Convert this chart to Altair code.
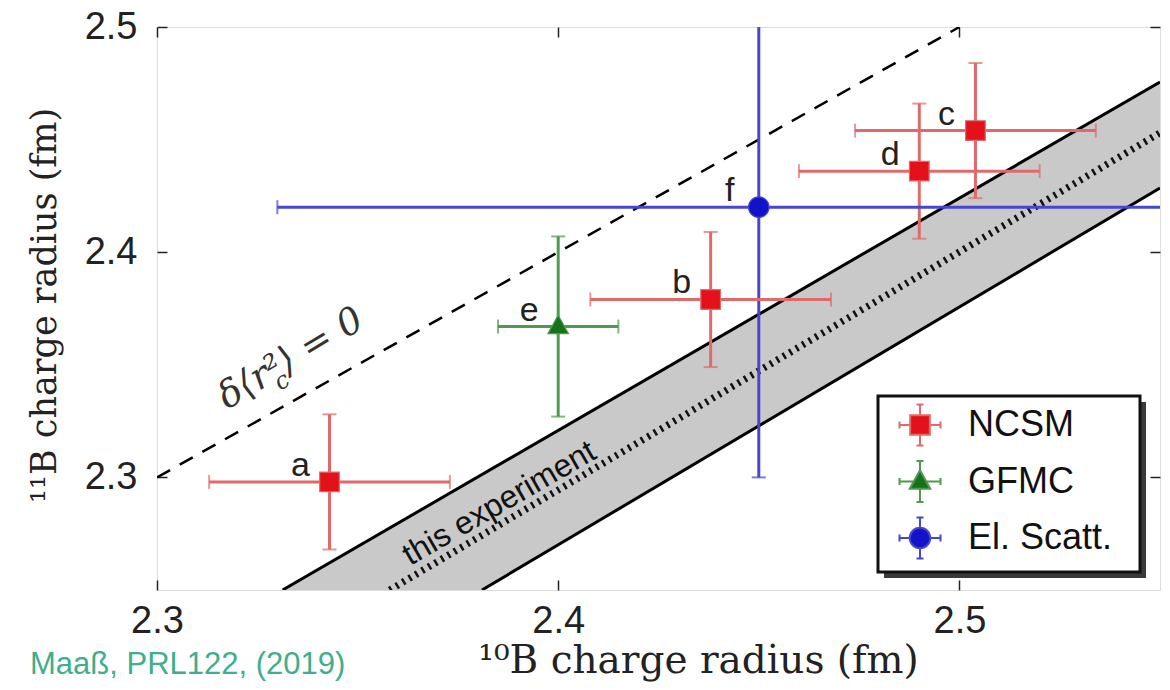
import altair as alt
import pandas as pd

# ---- data ----
labels = ["a", "b", "c", "d", "e", "f"]
models = ["NCSM", "NCSM", "NCSM", "NCSM", "GFMC", "El. Scatt."]
r10 = [2.343, 2.438, 2.504, 2.490, 2.400, 2.450]
r11 = [2.298, 2.379, 2.454, 2.436, 2.367, 2.420]
r10_err = [0.030, 0.030, 0.030, 0.030, 0.015, 0.120]
r11_err = [0.030, 0.030, 0.030, 0.030, 0.040, 0.120]

model_names = ["NCSM", "GFMC", "El. Scatt."]
marker_colors = ["#e3121a", "#17731a", "#1212c8"]
bar_colors = ["#e06a6a", "#4f9a4f", "#4646d2"]

tick_values = [2.3, 2.4, 2.5]

# "this experiment" band (delta<r^2> = const curves)
band_upper_x = [2.3313, 2.55]
band_upper_y = [2.25, 2.4756]
band_center_x = [2.358, 2.55]
band_center_y = [2.25, 2.453]
band_lower_x = [2.381, 2.55]
band_lower_y = [2.25, 2.4285]
band_fill_x = [2.3313, 2.381, 2.55]
band_fill_top = [2.25, 2.3015, 2.4756]
band_fill_bottom = [2.25, 2.25, 2.4285]

# delta<r^2> = 0 line
equal_x = [2.3, 2.5]
equal_y = [2.3, 2.5]

# annotation anchors (data units)
band_text = ["this experiment"]
band_text_x = [2.3853]
band_text_y = [2.2886]
zero_text = ["δ⟨r²⟩ = 0"]
zero_text_x = [2.3175]
zero_text_y = [2.3300]
footer_text = ["Maaß, PRL122, (2019)"]

# ---- layout ----
W, H = 1003, 563
SANS = "Liberation Sans"
SERIF = "DejaVu Serif"

xscale = alt.Scale(domain=[2.3, 2.55], nice=False, zero=False)
yscale = alt.Scale(domain=[2.25, 2.5], nice=False, zero=False)

tick_style = dict(values=tick_values, grid=False, domain=False, ticks=True, tickSize=10,
                  tickColor="#222", tickWidth=1.5, offset=-10, labelFlush=False)

xaxis_main = alt.Axis(orient="bottom", format=".1f", title="¹⁰B charge radius (fm)",
                      labelFont=SANS, labelFontSize=38, labelColor="#222", labelPadding=12,
                      titleFont=SERIF, titleFontSize=39, titleFontWeight="normal",
                      titleColor="#222", titleX=541, titleY=92, titleBaseline="alphabetic",
                      **tick_style)
yaxis_main = alt.Axis(orient="left", format=".1f", title="¹¹B charge radius (fm)",
                      labelFont=SANS, labelFontSize=38, labelColor="#222", labelPadding=20,
                      titleFont=SERIF, titleFontSize=35, titleFontWeight="normal",
                      titleColor="#222", titleAngle=270, titleX=-112, titleY=278,
                      titleBaseline="alphabetic", titleAlign="center", **tick_style)
xaxis_top = alt.Axis(orient="top", labels=False, title=None, **tick_style)
yaxis_right = alt.Axis(orient="right", labels=False, title=None, **tick_style)


def X(field, axis=None):
    return alt.X(field, type="quantitative", scale=xscale, axis=axis)


def Y(field, axis=None):
    return alt.Y(field, type="quantitative", scale=yscale, axis=axis)


points = pd.DataFrame({"label": labels, "model": models, "r10": r10, "r11": r11,
                       "r10_err": r10_err, "r11_err": r11_err})

band_fill = pd.DataFrame({"x": band_fill_x, "top": band_fill_top, "bottom": band_fill_bottom})
band_lines = pd.DataFrame({
    "x": band_upper_x + band_lower_x,
    "y": band_upper_y + band_lower_y,
    "edge": ["upper"] * len(band_upper_x) + ["lower"] * len(band_lower_x),
})
band_center = pd.DataFrame({"x": band_center_x, "y": band_center_y})
equal_line = pd.DataFrame({"x": equal_x, "y": equal_y})

area = alt.Chart(band_fill).mark_area(color="#c9c9c9", opacity=1, clip=True).encode(
    x=X("x", xaxis_main), y=Y("top", yaxis_main), y2="bottom")
edges = alt.Chart(band_lines).mark_line(color="#000", strokeWidth=3, clip=True).encode(
    x=X("x"), y=Y("y"), detail="edge")
center = alt.Chart(band_center).mark_line(color="#111", strokeWidth=7, strokeDash=[2.5, 5],
                                          clip=True).encode(x=X("x"), y=Y("y"))
dashed = alt.Chart(equal_line).mark_line(color="#000", strokeWidth=2.5, strokeDash=[15, 11],
                                         clip=True).encode(
    x=X("x", xaxis_top), y=Y("y", yaxis_right))

barcolor = alt.Color("series:N", scale=alt.Scale(domain=model_names, range=bar_colors),
                     legend=None)

base = alt.Chart(points).transform_calculate(
    series="datum.model",
    xlo="datum.r10 - datum.r10_err", xhi="datum.r10 + datum.r10_err",
    ylo="datum.r11 - datum.r11_err", yhi="datum.r11 + datum.r11_err")

xbars = base.mark_errorbar(ticks={"size": 14, "thickness": 2}, rule={"strokeWidth": 3},
                           clip=True).encode(
    x=X("xlo"), x2="xhi", y=Y("r11"), color=barcolor)
ybars = base.mark_errorbar(ticks={"size": 14, "thickness": 2}, rule={"strokeWidth": 3},
                           clip=True).encode(
    y=Y("ylo"), y2="yhi", x=X("r10"), color=barcolor)

# marker symbols (unit box -1..1)
sq = "M-0.48,-0.48H0.48V0.48H-0.48Z"
tri = "M0,-0.55L0.5,0.35H-0.5Z"
circ = "M0.5,0A0.5,0.5,0,1,1,-0.5,0A0.5,0.5,0,1,1,0.5,0Z"
# legend symbols: marker + error-bar cross with caps
caps = " M-1,-0.17V0.17 M1,-0.17V0.17 M-0.17,-1H0.17 M-0.17,1H0.17"
sq_leg = sq + " M-1,0H-0.48 M0.48,0H1 M0,-1V-0.48 M0,0.48V1" + caps
tri_leg = tri + " M-1,0H-0.305 M0.305,0H1 M0,-1V-0.55 M0,0.35V1" + caps
circ_leg = circ + " M-1,0H-0.5 M0.5,0H1 M0,-1V-0.5 M0,0.5V1" + caps

fill_enc = alt.Fill("model:N", scale=alt.Scale(domain=model_names, range=marker_colors),
                    legend=None)
stroke_enc = alt.Stroke("model:N", scale=alt.Scale(domain=model_names, range=bar_colors),
                        legend=None)

marks = alt.Chart(points).mark_point(filled=True, size=1681, strokeWidth=1.2, opacity=1).encode(
    x=X("r10"), y=Y("r11"), fill=fill_enc, stroke=stroke_enc,
    shape=alt.Shape("model:N", scale=alt.Scale(domain=model_names, range=[sq, tri, circ]),
                    legend=None),
)

point_labels = alt.Chart(points).mark_text(dx=-29, dy=-16, font=SANS, fontSize=34,
                                           color="#222", baseline="middle").encode(
    x=X("r10"), y=Y("r11"), text="label:N")

band_lbl = alt.Chart(pd.DataFrame({"x": band_text_x, "y": band_text_y, "t": band_text})).mark_text(
    angle=330, font=SANS, fontSize=32, color="#111", baseline="middle", align="center").encode(
    x=X("x"), y=Y("y"), text="t:N")
zero_lbl = alt.Chart(pd.DataFrame({"x": zero_text_x, "y": zero_text_y, "t": zero_text})).mark_text(
    angle=329, font=SERIF, fontSize=37, fontStyle="italic", color="#333",
    baseline="alphabetic", align="left").encode(x=X("x"), y=Y("y"), text="t:N")
zero_sub = alt.Chart(pd.DataFrame({"x": zero_text_x, "y": zero_text_y, "t": ["c"]})).mark_text(
    angle=329, font=SERIF, fontSize=24, fontStyle="italic", color="#333",
    baseline="alphabetic", align="left", dx=55, dy=11).encode(x=X("x"), y=Y("y"), text="t:N")

# ---- legend (drawn as marks) ----
frame_df = pd.DataFrame({"k": [0]})
shadow = alt.Chart(frame_df).mark_rect(color="#3a3a3a").encode(
    x=alt.value(727), x2=alt.value(989), y=alt.value(375), y2=alt.value(551))
legend_box = alt.Chart(frame_df).mark_rect(fill="white", stroke="#111", strokeWidth=3).encode(
    x=alt.value(721), x2=alt.value(983), y=alt.value(369), y2=alt.value(545))

legend_df = pd.DataFrame({"model": model_names})
leg_y = alt.Y("model:N", scale=alt.Scale(domain=model_names, range=[398, 511], padding=0),
              axis=None)
leg_sym = alt.Chart(legend_df).mark_point(filled=True, size=1681, strokeWidth=2,
                                          opacity=1).encode(
    x=alt.value(763), y=leg_y, fill=fill_enc, stroke=stroke_enc,
    shape=alt.Shape("model:N", scale=alt.Scale(domain=model_names,
                                               range=[sq_leg, tri_leg, circ_leg]),
                    legend=None),
)
leg_txt = alt.Chart(legend_df).mark_text(font=SANS, fontSize=36, color="#111", align="left",
                                         baseline="middle").encode(
    x=alt.value(811), y=leg_y, text="model:N")

footer = alt.Chart(pd.DataFrame({"t": footer_text})).mark_text(
    font=SANS, fontSize=31, color="#3fae8c", align="left", baseline="middle").encode(
    x=alt.value(-127), y=alt.value(638), text="t:N")

chart = alt.layer(
    area, edges, center, dashed, ybars, xbars, point_labels, band_lbl, zero_lbl,
    zero_sub, marks, shadow, legend_box, leg_sym, leg_txt, footer,
).resolve_scale(y="independent", shape="independent").resolve_axis(
    x="independent", y="independent"
).properties(
    width=W, height=H,
    autosize=alt.AutoSizeParams(type="none"),
    padding={"left": 149, "top": 19, "right": 2, "bottom": 92},
).configure_view(stroke="#222", strokeWidth=3).configure(background="white")

chart.save("out.html", embed_options={"renderer": "svg", "actions": False})
